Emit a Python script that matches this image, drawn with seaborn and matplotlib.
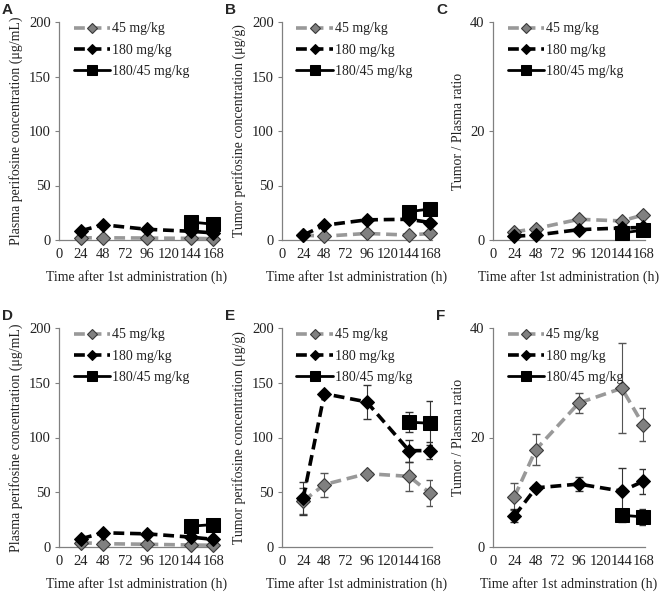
import numpy as np
import pandas as pd
import matplotlib
matplotlib.use("Agg")
import matplotlib.pyplot as plt
import seaborn as sns

sns.set_style("ticks")
plt.rcParams['font.family'] = ['Liberation Serif', 'DejaVu Serif']

# time points (h)
hours = [24, 48, 96, 144, 168]
hours_combo = [144, 168]
xticks = [0, 24, 48, 72, 96, 120, 144, 168]

# panel values: 45 mg/kg, 180 mg/kg, 180/45 mg/kg
A_45 = [2.0, 2.0, 1.8, 1.5, 1.2]
A_180 = [8.5, 14.0, 9.8, 8.0, 6.5]
A_combo = [16.5, 14.5]

B_45 = [4.5, 3.5, 6.0, 4.5, 6.0]
B_180 = [4.5, 13.5, 18.5, 19.0, 16.0]
B_combo = [26.0, 28.5]

C_45 = [1.5, 2.1, 3.8, 3.5, 4.6]
C_180 = [0.7, 0.9, 1.9, 2.2, 2.3]
C_combo = [1.3, 1.8]

D_45 = [4.0, 3.0, 2.5, 1.8, 1.6]
D_180 = [7.5, 13.0, 12.0, 9.0, 7.0]
D_combo = [19.0, 20.5]

E_45 = [42.0, 57.0, 67.0, 64.5, 49.0]
E_45_err = [12.0, 11.0, 2.0, 13.5, 12.0]
E_180 = [44.5, 140.0, 132.5, 88.0, 88.0]
E_180_err = [15.0, 2.0, 15.5, 10.0, 8.0]
E_combo = [114.0, 113.0]
E_combo_err = [9.0, 20.0]

F_45 = [9.2, 17.8, 26.3, 29.0, 22.3]
F_45_err = [2.4, 2.8, 1.9, 8.2, 3.0]
F_180 = [5.7, 10.8, 11.5, 10.2, 12.0]
F_180_err = [1.2, 0.6, 1.3, 4.3, 2.3]
F_combo = [5.8, 5.5]
F_combo_err = [1.2, 1.4]

panels = [
    ("A", A_45, A_180, A_combo, None, None, None, 200, "Plasma perifosine concentration (\u03bcg/mL)",
     "Time after 1st administration (h)"),
    ("B", B_45, B_180, B_combo, None, None, None, 200, "Tumor perifosine concentration (\u03bcg/g)",
     "Time after 1st administration (h)"),
    ("C", C_45, C_180, C_combo, None, None, None, 40, "Tumor / Plasma ratio",
     "Time after 1st administration (h)"),
    ("D", D_45, D_180, D_combo, None, None, None, 200, "Plasma perifosine concentration (\u03bcg/mL)",
     "Time after 1st administration (h)"),
    ("E", E_45, E_180, E_combo, E_45_err, E_180_err, E_combo_err, 200, "Tumor perifosine concentration (\u03bcg/g)",
     "Time after 1st administration (h)"),
    ("F", F_45, F_180, F_combo, F_45_err, F_180_err, F_combo_err, 40, "Tumor / Plasma ratio",
     "Time after 1st adminstration (h)"),
]

W, H = 661, 593
fig = plt.figure(figsize=(W / 100, H / 100), dpi=100)

lefts = [59, 282, 493]
widths = [156, 150, 152]
rows = [(240, 22), (547, 328)]

for i, (letter, s45, s180, scombo, e45, e180, ecombo, ymax, ylab, xlab) in enumerate(panels):
    r, c = divmod(i, 3)
    bot, top = rows[r]
    ax = fig.add_axes([lefts[c] / W, 1 - bot / H, widths[c] / W, (bot - top) / H])

    if e45 is not None:
        ax.errorbar(hours, s45, yerr=e45, fmt="none", ecolor="#555555", elinewidth=0.8, capsize=3, zorder=1)
        ax.errorbar(hours, s180, yerr=e180, fmt="none", ecolor="#333333", elinewidth=0.8, capsize=3, zorder=1)
        ax.errorbar(hours_combo, scombo, yerr=ecombo, fmt="none", ecolor="#333333", elinewidth=0.8, capsize=3, zorder=1)

    sns.lineplot(x=hours, y=s45, ax=ax, color="#999999", linestyle=(0, (3, 1.6)), linewidth=2.6,
                 marker="D", markersize=7.5, markerfacecolor="#808080", markeredgecolor="#3a3a3a",
                 markeredgewidth=0.8, label="45 mg/kg", zorder=3, clip_on=False)
    sns.lineplot(x=hours, y=s180, ax=ax, color="black", linestyle=(0, (3, 1.6)), linewidth=2.6,
                 marker="D", markersize=7.5, markerfacecolor="black", markeredgecolor="black",
                 label="180 mg/kg", zorder=4, clip_on=False)
    sns.lineplot(x=hours_combo, y=scombo, ax=ax, color="black", linestyle="-", linewidth=2.0,
                 marker="s", markersize=10.5, markerfacecolor="black", markeredgecolor="black",
                 label="180/45 mg/kg", zorder=5, clip_on=False)

    ax.set_xlim(0, 170)
    ax.set_ylim(0, ymax)
    ax.set_xticks(xticks)
    ax.set_yticks(np.linspace(0, ymax, 5 if ymax == 200 else 3))
    ax.tick_params(axis="both", labelsize=10.5, length=3, color="#808080", pad=3, labelcolor="#222222")
    ax.tick_params(axis="x", length=0, pad=6)
    for sp in ["top", "right"]:
        ax.spines[sp].set_visible(False)
    for sp in ["left", "bottom"]:
        ax.spines[sp].set_color("#808080")
        ax.spines[sp].set_linewidth(0.9)
    ax.set_ylabel(ylab, fontsize=10, labelpad=4, color="#222222")
    ax.set_xlabel(xlab, fontsize=10, labelpad=6, color="#222222")

    leg = ax.legend(loc="upper left", frameon=False, fontsize=10, handlelength=2.6,
                    handletextpad=0.15, borderaxespad=0.1, labelspacing=0.6, markerscale=0.7,
                    bbox_to_anchor=(0.05, 1.03))
    for t in leg.get_texts():
        t.set_color("#222222")
    fig.text((lefts[c] - 57) / W, 1 - (top - 12) / H, letter, fontsize=11, fontweight="bold",
             family="Liberation Sans", va="center", ha="left")

fig.savefig("out.png", dpi=100)
